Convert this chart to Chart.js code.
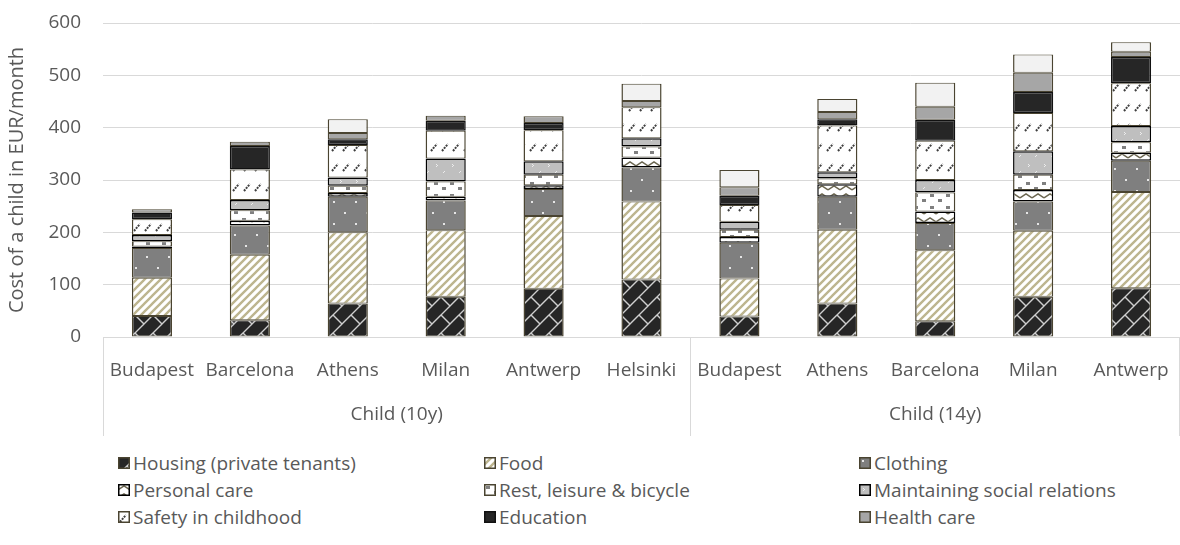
<!DOCTYPE html>
<html><head><meta charset="utf-8">
<script src="https://cdn.jsdelivr.net/npm/chart.js@4.4.1/dist/chart.umd.min.js"></script>
<style>
html,body{margin:0;padding:0;background:#fff;width:1180px;height:545px;overflow:hidden;font-family:"Open Sans",sans-serif;}
#wrap{position:relative;width:1180px;height:545px;}
#c{position:absolute;left:0;top:0;}
.leg{position:absolute;display:flex;align-items:center;font-size:19px;color:#595959;white-space:nowrap;height:26px;}
.leg canvas{margin-right:3px;display:block;}
</style></head>
<body><div id="wrap"><canvas id="c" width="1180" height="445"></canvas><div id="legend"></div></div>
<script>
// ---- data ----
const categories = ['Budapest','Barcelona','Athens','Milan','Antwerp','Helsinki','Budapest','Athens','Barcelona','Milan','Antwerp'];
const groupLabels = ['Child (10y)','Child (14y)'];
const groupSizes = [6,5];
const yTicks = [0,100,200,300,400,500,600];
const seriesNames = ['Housing (private tenants)','Food','Clothing','Personal care','Rest, leisure & bicycle','Maintaining social relations','Safety in childhood','Education','Health care','Other'];
const housing      = [40, 32, 64, 77, 92,110, 39, 64, 30, 77, 93];
const food         = [73,125,136,127,139,149, 73,141,136,126,184];
const clothing     = [57, 56, 68, 57, 52, 65, 68, 63, 52, 56, 60];
const personalCare = [ 3,  9,  7,  7,  7, 19, 11, 24, 22, 22, 15];
const restLeisure  = [10, 20, 14, 29, 20, 21, 14, 11, 36, 29, 20];
const socialRel    = [12, 20, 16, 44, 26, 16, 15, 12, 24, 45, 31];
const safety       = [30, 58, 62, 53, 59, 59, 32, 89, 75, 73, 82];
const education    = [13, 45, 11, 19, 14,  0, 18, 12, 40, 40, 50];
const healthCare   = [ 6,  8, 12, 10, 13, 12, 16, 14, 25, 37, 10];
const other        = [ 0,  0, 26,  0,  0, 33, 33, 25, 46, 35, 18];
const seriesValues = [housing,food,clothing,personalCare,restLeisure,socialRel,safety,education,healthCare,other];

// ---- patterns ----
const OLIVE = '#4a4431';
function tile(w,h,bg,draw){const c=document.createElement('canvas');c.width=w;c.height=h;const g=c.getContext('2d');g.fillStyle=bg;g.fillRect(0,0,w,h);if(draw)draw(g,w,h);return c;}
function diag(g,ks,w){g.beginPath();for(const k of ks){g.moveTo(k+4,-4);g.lineTo(k-w-4,w+4);}g.stroke();}
const tiles = [
  tile(18,18,'#262626',g=>{g.strokeStyle='#cfcfcf';g.lineWidth=1.4;diag(g,[0,18,36],18);g.beginPath();g.moveTo(9,9);g.lineTo(19,19);g.stroke();}),
  tile(8,8,'#ffffff',g=>{g.strokeStyle='#bdb58f';g.lineWidth=2.4;diag(g,[0,8,16],8);}),
  tile(22,22,'#7f7f7f',g=>{g.fillStyle='#e6e6e6';g.fillRect(3,3,2,2);g.fillRect(14,14,2,2);}),
  tile(12,8,'#ffffff',g=>{g.strokeStyle='#6b6650';g.lineWidth=1.5;g.beginPath();g.moveTo(0,6);g.lineTo(6,2);g.lineTo(12,6);g.stroke();}),
  tile(16,12,'#ffffff',g=>{g.fillStyle='#808080';g.fillRect(2,2,4,3);g.fillRect(10,7,4,3);}),
  tile(16,16,'#bfbfbf',g=>{g.fillStyle='#ececec';g.fillRect(4,4,1,1);g.fillRect(5,5,1,1);g.fillRect(4,6,1,1);g.fillRect(12,11,1,1);g.fillRect(11,12,1,1);}),
  tile(11,20,'#ffffff',g=>{g.strokeStyle='#3f3f3f';g.lineWidth=2;g.setLineDash([2,1]);g.beginPath();g.moveTo(2,11);g.lineTo(8,4);g.stroke();}),
  tile(4,4,'#262626'),
  tile(4,4,'#a6a6a6'),
  tile(4,4,'#f2f2f2')
];
const borderColors = [OLIVE,OLIVE,OLIVE,'#000000',OLIVE,'#000000',OLIVE,'#111111',OLIVE,OLIVE];

const canvas = document.getElementById('c');
const ctx = canvas.getContext('2d');

const datasets = seriesNames.map((name,i)=>({
  label:name,
  data:seriesValues[i],
  backgroundColor: ctx.createPattern(tiles[i],'repeat'),
  borderColor: borderColors[i],
  borderWidth: borderColors[i]===OLIVE ? {left:1.5,right:1.5,top:1,bottom:1} : 1.5,
  borderSkipped:false,
  categoryPercentage:1,
  barPercentage:0.41
}));

const groupPlugin = {
  id:'groups',
  afterDraw(chart){
    const {ctx:c, chartArea:a, scales:{x}} = chart;
    c.save();
    c.strokeStyle='#d9d9d9'; c.lineWidth=1;
    c.beginPath(); c.moveTo(a.left, Math.round(a.bottom)+0.5); c.lineTo(a.right, Math.round(a.bottom)+0.5); c.stroke();
    const seps=[a.left]; let idx=0;
    groupSizes.forEach((n,gi)=>{
      idx+=n;
      if(idx<categories.length) seps.push((x.getPixelForValue(idx-1)+x.getPixelForValue(idx))/2);
    });
    seps.push(a.right-1);
    c.beginPath();
    seps.forEach(sx=>{const px=Math.round(sx)+0.5;c.moveTo(px,a.bottom);c.lineTo(px,a.bottom+99);});
    c.stroke();
    c.fillStyle='#595959'; c.font="19px 'Open Sans'"; c.textAlign='center'; c.textBaseline='middle';
    let s=0;
    groupSizes.forEach((n,gi)=>{
      const cx=(x.getPixelForValue(s)+x.getPixelForValue(s+n-1))/2;
      c.fillText(groupLabels[gi], cx, a.bottom+78);
      s+=n;
    });
    c.restore();
  }
};

new Chart(ctx,{
  type:'bar',
  data:{labels:categories,datasets},
  options:{
    responsive:false,animation:false,
    layout:{padding:{top:23,right:0,bottom:0,left:0}},
    plugins:{legend:{display:false},tooltip:{enabled:false}},
    scales:{
      x:{stacked:true,grid:{display:false,drawTicks:false},border:{display:false},
         ticks:{color:'#595959',font:{family:"'Open Sans'",size:19},padding:22,maxRotation:0,autoSkip:false},
         afterFit(s){s.height=108;s.paddingLeft=0;s.paddingRight=0;}},
      y:{stacked:true,min:0,max:600,
         grid:{color:'#d9d9d9',drawTicks:false},border:{display:false},
         afterBuildTicks(s){s.ticks=yTicks.map(v=>({value:v}));},
         ticks:{color:'#595959',font:{family:"'Open Sans'",size:19},padding:22},
         title:{display:true,text:'Cost of a child in EUR/month',color:'#595959',font:{family:"'Open Sans'",size:20},padding:{top:5,bottom:0}},
         afterFit(s){s.width=103;s.paddingTop=0;s.paddingBottom=0;}}
    }
  },
  plugins:[groupPlugin]
});

// ---- legend (HTML) ----
const legendCols=[118,484,859];
const legendRows=[463,490,517];
const leg=document.getElementById('legend');
for(let i=0;i<9;i++){
  const d=document.createElement('div');d.className='leg';
  d.style.left=legendCols[i%3]+'px'; d.style.top=(legendRows[Math.floor(i/3)]-13)+'px';
  const sw=document.createElement('canvas');sw.width=12;sw.height=12;
  const g=sw.getContext('2d');g.fillStyle=g.createPattern(tiles[i],'repeat');g.fillRect(0,0,12,12);
  g.strokeStyle=borderColors[i];g.lineWidth=1.5;g.strokeRect(0.75,0.75,10.5,10.5);
  d.appendChild(sw);
  const t=document.createElement('span');t.textContent=seriesNames[i];d.appendChild(t);
  leg.appendChild(d);
}
</script>
</body></html>
